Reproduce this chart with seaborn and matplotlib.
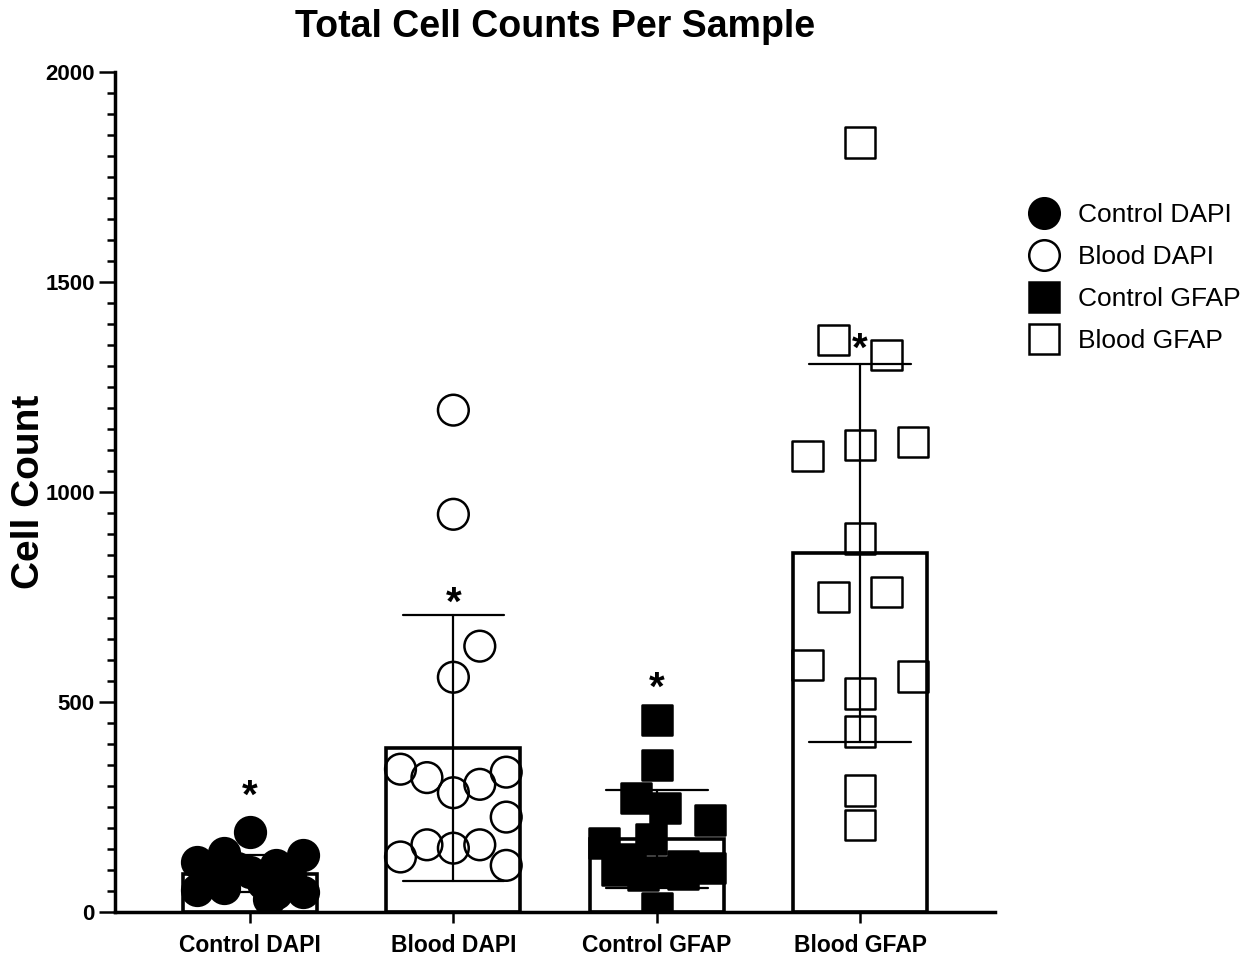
import numpy as np
import pandas as pd
import seaborn as sns
import matplotlib.pyplot as plt
from matplotlib.lines import Line2D
from matplotlib.ticker import MultipleLocator

# =====================================================
# DATA
# =====================================================
groups = ["Control DAPI", "Blood DAPI", "Control GFAP", "Blood GFAP"]

control_dapi = [190, 140, 136, 119, 112, 105, 95, 88, 80, 70, 57, 52, 48, 45, 30]
blood_dapi = [1195, 947, 633, 559, 340, 320, 284, 304, 333, 226, 131, 160, 152, 160, 111]
control_gfap = [457, 350, 271, 248, 219, 174, 164, 125, 110, 105, 100, 95, 90, 88, 10]
blood_gfap = [1833, 1362, 1326, 1112, 1119, 1086, 890, 750, 762, 588, 560, 521, 429, 290, 207]

# column lane of each point (GraphPad-style scatter layout)
control_dapi_lane = [0, -1, 2, -2, 1, -0.5, 0, 1.5, -1.5, 0.5, -1, -2, 2, 1, 0.7]
blood_dapi_lane = [0, 0, 1, 0, -2, -1, 0, 1, 2, 2, -2, -1, 0, 1, 2]
control_gfap_lane = [0, 0, -0.8, 0.3, 2, -0.2, -2, -1, 1, 2, -1.5, 0, 1, -0.5, 0]
blood_gfap_lane = [0, -1, 1, 0, 2, -2, 0, -1, 1, -2, 2, 0, 0, 0, 0]

# height of the significance stars
star_y = [302, 762, 560, 1367]

values = [control_dapi, blood_dapi, control_gfap, blood_gfap]
lanes = [control_dapi_lane, blood_dapi_lane, control_gfap_lane, blood_gfap_lane]

df = pd.DataFrame({
    "group": np.repeat(groups, [len(v) for v in values]),
    "count": np.concatenate(values),
})

# =====================================================
# PLOT
# =====================================================
sns.set_style("ticks")
plt.rcParams["font.family"] = ["Liberation Sans", "DejaVu Sans"]
plt.rcParams.update({
    "text.color": "black",
    "axes.labelcolor": "black",
    "axes.edgecolor": "black",
    "xtick.color": "black",
    "ytick.color": "black",
})

fig, ax = plt.subplots(figsize=(12.46, 9.61), dpi=100)
fig.subplots_adjust(left=0.0923, right=0.7986, bottom=0.051, top=0.925)

sns.barplot(data=df, x="group", y="count", order=groups, errorbar="sd",
            width=0.66, capsize=0.5, color="white", saturation=1,
            edgecolor="black", linewidth=2.6,
            err_kws={"color": "black", "linewidth": 1.6}, ax=ax)

styles = [("o", "black"), ("o", "none"), ("s", "black"), ("s", "none")]
for i, (vals, lane) in enumerate(zip(values, lanes)):
    marker, face = styles[i]
    x = i + np.array(lane) * 0.13
    ax.scatter(x, vals, s=490, marker=marker, facecolor=face,
               edgecolor="black", linewidth=1.8, zorder=3)

star_fs = 29
for i, y in enumerate(star_y):
    ax.annotate("*", xy=(i, y), xytext=(0, -0.57 * star_fs),
                textcoords="offset points", ha="center", va="baseline",
                fontsize=star_fs, fontweight="bold", zorder=4)

ax.set_xlim(-0.664, 3.664)
ax.set_ylim(0, 2000)
ax.yaxis.set_major_locator(MultipleLocator(500))
ax.yaxis.set_minor_locator(MultipleLocator(50))

sns.despine(ax=ax)
for side in ["left", "bottom"]:
    ax.spines[side].set_linewidth(2.5)

ax.tick_params(axis="y", which="major", length=11.5, width=1.8, pad=3)
ax.tick_params(axis="y", which="minor", length=6, width=1.8)
ax.tick_params(axis="x", length=8, width=1.8, pad=8)

for lbl in ax.get_yticklabels():
    lbl.set_fontweight("bold")
    lbl.set_fontsize(16)
for lbl in ax.get_xticklabels():
    lbl.set_fontweight("bold")
    lbl.set_fontsize(16.5)

ax.set_xlabel("")
ax.set_ylabel("Cell Count", fontsize=28, fontweight="bold")
ax.yaxis.set_label_coords(-0.077, 0.5)

fig.text(0.4454, 0.972, "Total Cell Counts Per Sample", ha="center",
         va="center", fontsize=27, fontweight="bold")

handles = [
    Line2D([], [], marker=m, linestyle="", markersize=22,
           markerfacecolor=f, markeredgecolor="black", markeredgewidth=1.8)
    for m, f in styles
]
fig.legend(handles, groups, loc="upper left", bbox_to_anchor=(0.808, 0.813),
           frameon=False, fontsize=19, handlelength=1.0, handletextpad=0.8,
           labelspacing=0.68)

plt.savefig("out.png", dpi=100)
plt.close()
